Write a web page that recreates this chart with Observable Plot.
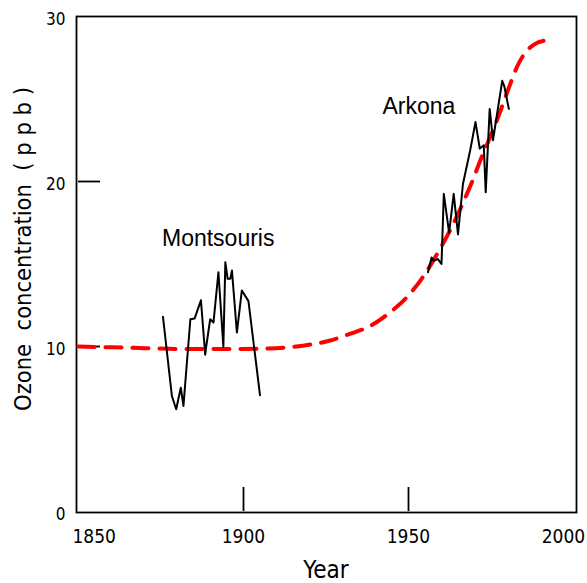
<!DOCTYPE html>
<html>
<head>
<meta charset="utf-8">
<script src="https://cdn.jsdelivr.net/npm/d3@7"></script>
<script src="https://cdn.jsdelivr.net/npm/@observablehq/plot@0.6"></script>
<style>
  html, body { margin: 0; padding: 0; background: #fff; }
  #chart svg { display: block; }
</style>
</head>
<body>
<div id="chart"></div>
<script>
// ---- Data ----
const montsourisYear = [1875.6, 1878.3, 1879.6, 1881.0, 1881.8, 1883.9, 1885.2, 1887.1, 1888.4, 1888.7, 1889.9, 1890.9, 1892.4, 1893.9, 1894.5, 1895.2, 1896.0, 1896.5, 1898.0, 1899.5, 1901.5, 1905.0];
const montsourisPpb  = [11.8, 7.0, 6.2, 7.5, 6.4, 11.65, 11.7, 12.8, 9.5, 10.0, 11.65, 11.45, 14.5, 10.0, 15.1, 14.1, 14.1, 14.6, 10.85, 13.4, 12.75, 7.05];

const arkonaYear = [1955.9, 1957.0, 1957.6, 1958.9, 1960.0, 1960.7, 1962.3, 1963.7, 1965.0, 1966.5, 1968.7, 1970.3, 1971.6, 1972.8, 1973.4, 1974.6, 1975.6, 1978.4, 1979.0, 1980.4];
const arkonaPpb  = [14.5, 15.4, 15.2, 15.3, 15.0, 19.25, 16.9, 19.25, 16.8, 19.85, 21.9, 23.6, 22.0, 22.2, 19.35, 24.4, 22.5, 26.1, 25.8, 24.4];

const trendYear = [1850, 1860, 1870, 1880, 1890, 1900, 1910, 1918, 1926, 1932, 1938, 1944, 1950, 1955, 1959.5, 1963, 1966.5, 1969.5, 1972, 1976, 1979, 1981, 1983, 1985, 1988, 1991.5, 1994];
const trendPpb  = [10.0, 9.95, 9.9, 9.85, 9.85, 9.85, 9.9, 10.05, 10.35, 10.75, 11.2, 12.0, 13.1, 14.4, 15.9, 17.2, 18.7, 20.1, 21.4, 23.3, 24.9, 26.0, 27.0, 27.7, 28.3, 28.55, 28.6];

const xTicks = [1850, 1900, 1950, 2000];
const yTicks = [0, 10, 20, 30];
const xTitle = "Year";
const yTitle = "Ozone\u00a0 concentration\u00a0 (\u00a0p\u00a0p\u00a0b\u00a0)";
const seriesLabels = ["Montsouris", "Arkona"];
const labelYear = [1875.3, 1942.1];
const labelPpb  = [16.1, 24.1];

// ---- Tables built from the arrays ----
const montsouris = montsourisYear.map((x, i) => ({x, y: montsourisPpb[i]}));
const arkona = arkonaYear.map((x, i) => ({x, y: arkonaPpb[i]}));
const trend = trendYear.map((x, i) => ({x, y: trendPpb[i]}));
const labels = seriesLabels.map((t, i) => ({t, x: labelYear[i], y: labelPpb[i]}));

const narrow = "'DejaVu Sans Condensed', 'Liberation Sans Narrow', sans-serif";
const regular = "'Liberation Sans', 'DejaVu Sans', sans-serif";
const fmt = d => String(d);

const chart = Plot.plot({
  width: 587,
  height: 583,
  marginLeft: 78,
  marginRight: 14,
  marginTop: 16,
  marginBottom: 72,
  style: {fontFamily: narrow, color: "#000", background: "#fff", overflow: "visible"},
  x: {domain: [1850, 2000]},
  y: {domain: [0, 30]},
  marks: [
    Plot.frame({stroke: "#000", strokeWidth: 1.8, insetLeft: -2, insetRight: -3, insetBottom: -1}),
    // inward ticks
    Plot.axisX(xTicks.slice(1, 3), {tickSize: -24, strokeWidth: 1.8, tickFormat: () => null, label: null}),
    Plot.axisY(yTicks.slice(1, 3), {tickSize: -22, strokeWidth: 1.8, tickFormat: () => null, label: null}),
    // x tick labels
    Plot.axisX(xTicks.slice(1, 3), {tickSize: 0, tickPadding: 18, fontSize: 19, tickFormat: fmt, label: null}),
    Plot.axisX(xTicks.slice(0, 1), {tickSize: 0, tickPadding: 18, fontSize: 19, tickFormat: fmt, textAnchor: "start", dx: -6, label: null}),
    Plot.axisX(xTicks.slice(3), {tickSize: 0, tickPadding: 18, fontSize: 19, tickFormat: fmt, dx: -10, label: null}),
    // y tick labels
    Plot.axisY(yTicks, {tickSize: 0, tickPadding: 13, fontSize: 17, dy: 3, tickFormat: fmt, label: null}),
    // axis titles
    Plot.text([xTitle], {frameAnchor: "bottom", text: d => d, textAnchor: "middle", lineAnchor: "middle", dy: 59, fontSize: 24, fill: "#000"}),
    Plot.text([yTitle], {frameAnchor: "left", text: d => d, textAnchor: "middle", rotate: -90, lineAnchor: "middle", dx: -55, dy: -15, fontSize: 23.5, fill: "#000"}),
    // trend curve
    Plot.line(trend, {x: "x", y: "y", stroke: "#ff0000", strokeWidth: 4, strokeDasharray: "16,11", curve: "monotone-x"}),
    // observations
    Plot.line(montsouris, {x: "x", y: "y", stroke: "#000", strokeWidth: 2}),
    Plot.line(arkona, {x: "x", y: "y", stroke: "#000", strokeWidth: 2}),
    Plot.text(labels, {x: "x", y: "y", text: "t", textAnchor: "start", lineAnchor: "bottom", fontSize: 23, fontFamily: regular, fill: "#000"})
  ]
});

document.getElementById("chart").appendChild(chart);
</script>
</body>
</html>
